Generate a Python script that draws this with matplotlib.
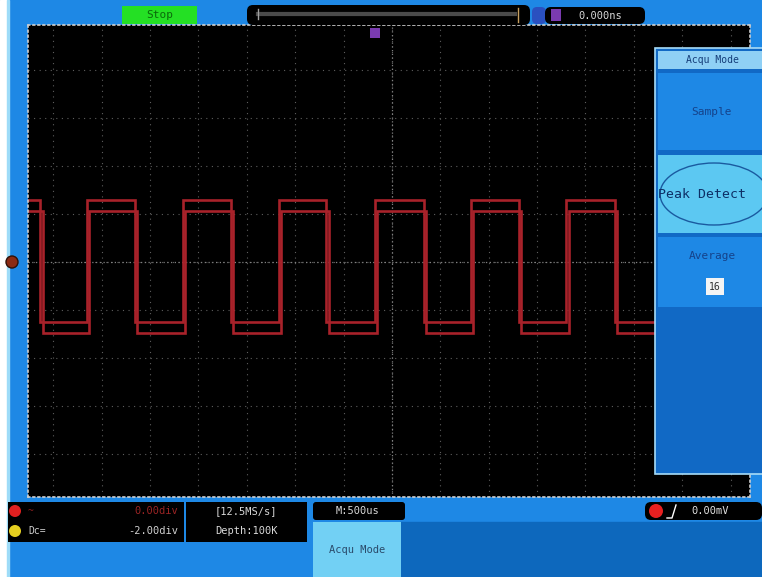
import numpy as np
import matplotlib.pyplot as plt
from matplotlib.patches import Rectangle, FancyBboxPatch, Ellipse, Circle

# waveform, in divisions (x: 500us/div, center = 0)
rise_edges = [-6.30, -4.32, -2.34, -0.35, 1.63, 3.60]
fall_edges = [-7.27, -5.31, -3.33, -1.36, 0.66, 2.62, 4.61]
high_levels = [1.29, 1.06]   # peak detect: max / min envelope
low_levels = [-1.25, -1.48]
x_start, x_end = -7.5, 5.6

menu_title = "Acqu Mode"
menu_items = ["Sample", "Peak Detect", "Average"]
avg_count = "16"
status_top = ["Stop", "0.000ns"]
ch_rows = [("1", "~", "0.00div"), ("2", "Dc=", "-2.00div")]
sample_info = ["[12.5MS/s]", "Depth:100K"]
timebase = "M:500us"
trig_level = "0.00mV"

W, H = 762, 577
BLUE = "#1e88e5"
DARK = "#0d68bd"
LIGHT = "#5cc8f2"
RED = "#a8222a"
MONO = "DejaVu Sans Mono"

fig = plt.figure(figsize=(W / 100, H / 100), dpi=100)

# background layer in pixel coords
bg = fig.add_axes([0, 0, 1, 1], zorder=0)
bg.set_xlim(0, W)
bg.set_ylim(H, 0)
bg.axis("off")
bg.add_patch(Rectangle((0, 0), W, H, color=BLUE))
bg.add_patch(Rectangle((0, 0), 7, H, color="white"))
bg.add_patch(Rectangle((7, 0), 2, H, color="#9edcf8"))
bg.add_patch(Rectangle((400, 522), W - 400, H - 522, color=DARK))

# scope screen
x0, y0, x1, y1 = 28, 25, 750, 497
ax = fig.add_axes([x0 / W, 1 - y1 / H, (x1 - x0) / W, (y1 - y0) / H], zorder=1)
ax.set_facecolor("black")
ax.set_xlim(-7.52, 7.40)
ax.set_ylim(-4.9, 4.94)
ax.set_xticks([])
ax.set_yticks([])
for s in ax.spines.values():
    s.set_color("#cfcfcf")
    s.set_linestyle((0, (1, 2)))
    s.set_linewidth(1.2)

dot = dict(color="#5e5e5e", lw=0.8, ls=(0, (1, 4)))
for gx in range(-7, 8):
    ax.axvline(gx, **dot)
for gy in range(-4, 5):
    ax.axhline(gy, **dot)
ax.axvline(0, color="#808080", lw=0.9, ls=(0, (1, 2)))
ax.axhline(0, color="#808080", lw=0.9, ls=(0, (1, 2)))

edges = sorted([(e, "f") for e in fall_edges] + [(e, "r") for e in rise_edges])
for k, (hi, lo) in enumerate(zip(high_levels, low_levels)):
    off = 0.05 * k
    xs, ys = [x_start], [hi]
    for e, kind in edges:
        e = e + off
        if kind == "f":
            xs += [e, e]
            ys += [hi, lo]
        else:
            xs += [e, e]
            ys += [lo, hi]
    xs.append(x_end)
    ys.append(ys[-1])
    ax.plot(xs, ys, color=RED, lw=1.9, solid_joinstyle="miter")

# overlay layer in pixel coords
ov = fig.add_axes([0, 0, 1, 1], zorder=3)
ov.set_xlim(0, W)
ov.set_ylim(H, 0)
ov.axis("off")
ov.patch.set_alpha(0)

def box(x, y, w, h, fc, ec="none", r=0.0, lw=1.0):
    if r > 0:
        p = FancyBboxPatch((x + r, y + r), w - 2 * r, h - 2 * r,
                           boxstyle=f"round,pad={r}", fc=fc, ec=ec, lw=lw)
    else:
        p = Rectangle((x, y), w, h, fc=fc, ec=ec, lw=lw)
    ov.add_patch(p)

def txt(x, y, s, c, size=7, ha="center", **kw):
    ov.text(x, y, s, color=c, fontsize=size, ha=ha, va="center",
            family=MONO, **kw)

# top bar
box(122, 6, 75, 18, "#24e024")
txt(160, 15, status_top[0], "#0a6a0a", 8)
box(247, 5, 283, 20, "black", r=6)
ov.plot([258, 515], [14, 14], color="#4a4a4a", lw=3)
ov.plot([518, 518], [8, 22], color="#c8a060", lw=1)
ov.plot([258, 258], [9, 19], color="#a0a0a0", lw=1)
box(532, 7, 14, 17, "#2a50c0", r=5)
box(545, 7, 100, 17, "black", r=6)
box(551, 9, 10, 12, "#7a3bb0")
txt(600, 16, status_top[1], "#d8d8d8", 7.5)
box(370, 28, 10, 10, "#7a3bb0")
ov.add_patch(Circle((12, 262), 6, fc="#8b2a14", ec="#301008", lw=1))

# right menu
box(655, 48, 110, 426, "#1169c5", ec="#a6dcf8", lw=1.2)
box(658, 51, 104, 18, "#8fd0f5")
txt(712, 60, menu_title, "#143c78", 7)
box(658, 73, 104, 77, BLUE)
txt(712, 112, menu_items[0], "#15428a", 8)
box(658, 155, 104, 78, LIGHT)
ov.add_patch(Ellipse((714, 194), 108, 62, fc="none", ec="#1a5aa0", lw=1))
txt(658, 194, menu_items[1], "#0d2f66", 9.5, ha="left")
box(658, 237, 104, 70, BLUE)
txt(712, 256, menu_items[2], "#15428a", 8)
box(706, 278, 18, 17, "#f4f4f4")
txt(715, 287, avg_count, "#303030", 7)

# bottom status
box(8, 502, 176, 40, "black")
ov.add_patch(Circle((15, 511), 6, fc="#e02020", ec="none"))
ov.add_patch(Circle((15, 531), 6, fc="#e6d020", ec="none"))
txt(28, 511, ch_rows[0][1], "#8a2020", 7, ha="left")
txt(178, 511, ch_rows[0][2], "#9a2424", 7.5, ha="right")
txt(28, 531, ch_rows[1][1], "#d0d0d0", 7, ha="left")
txt(178, 531, ch_rows[1][2], "#d0d0d0", 7.5, ha="right")
box(186, 502, 121, 40, "black")
txt(246, 511, sample_info[0], "#d8d8d8", 7.5)
txt(246, 531, sample_info[1], "#d8d8d8", 7.5)
box(313, 502, 92, 18, "black", r=3)
txt(357, 511, timebase, "#d8d8d8", 7.5)
box(313, 522, 88, 55, "#72d0f4")
txt(357, 550, menu_title, "#2a4a6a", 7.5)
box(645, 502, 117, 18, "black", r=6)
ov.add_patch(Circle((656, 511), 7, fc="#e82020", ec="none"))
ov.plot([667, 672, 676], [518, 518, 505], color="white", lw=1)
txt(710, 511, trig_level, "#e0e0e0", 7.5)

fig.savefig("out.png", dpi=100)
